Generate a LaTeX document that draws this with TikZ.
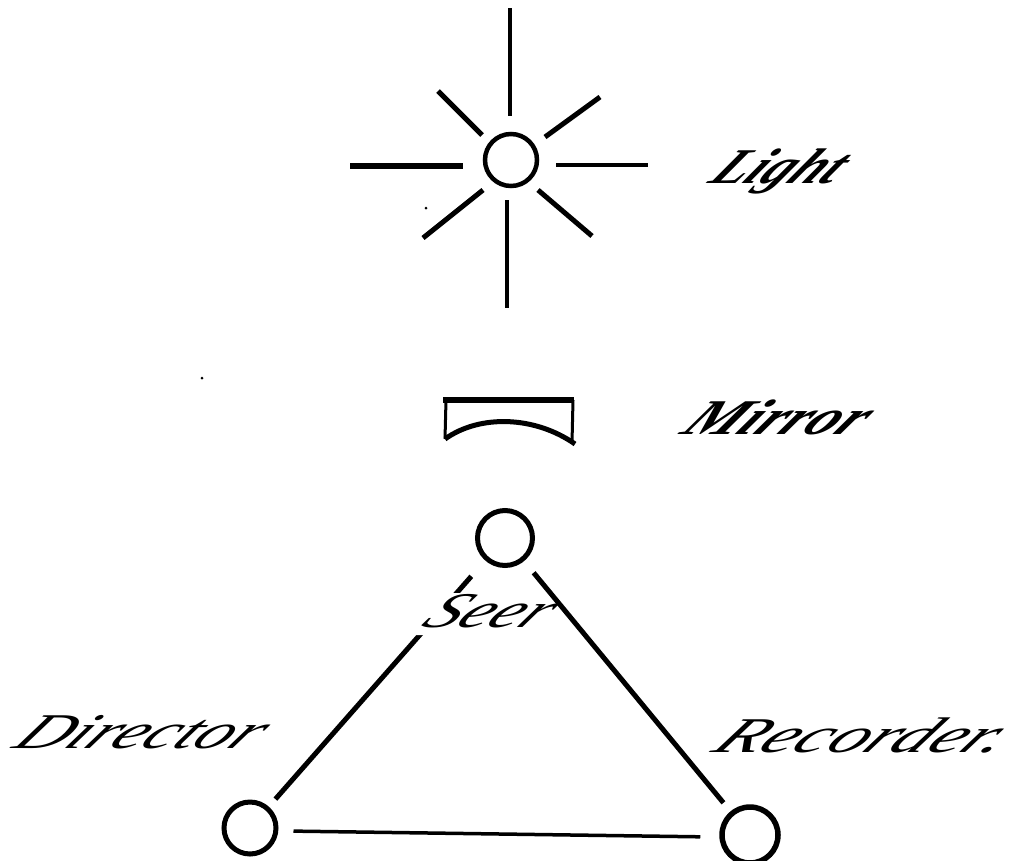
\documentclass[tikz,border=0pt]{standalone}
\usepackage{fontspec}
\setmainfont{Liberation Serif}
\begin{document}
\begin{tikzpicture}[x=1pt,y=-1pt,
  disc/.style={circle,draw=black,inner sep=0pt,minimum size=#1,fill=white},
  ray/.style={line width=#1,black},
  lbl/.style={font=\fontsize{50}{50}\selectfont\itshape,anchor=base,inner sep=0pt,xslant=.8,text=black},
  heavy/.style={font=\fontsize{50}{50}\selectfont\itshape\bfseries}]
\useasboundingbox (0,0) rectangle (1009,860);
\fill[white] (0,0) rectangle (1009,860);
% light
\node[disc=52pt,line width=4.5pt] (light) at (511,160) {};
\coordinate (rT0) at (510,8);   \coordinate (rT1) at (510,116);
\coordinate (rB0) at (507,200); \coordinate (rB1) at (507,308);
\coordinate (rL0) at (350,166); \coordinate (rL1) at (463,166);
\coordinate (rR0) at (556,165); \coordinate (rR1) at (648,165);
\coordinate (rA0) at (438,91);  \coordinate (rA1) at (482,135);
\coordinate (rC0) at (600,97);  \coordinate (rC1) at (545,137);
\coordinate (rD0) at (423,238); \coordinate (rD1) at (483,190);
\coordinate (rE0) at (592,236); \coordinate (rE1) at (538,190);
\draw[ray=3.5pt] (rT0) -- (rT1);
\draw[ray=3.5pt] (rB0) -- (rB1);
\draw[ray=6pt] (rL0) -- (rL1);
\draw[ray=4.5pt] (rR0) -- (rR1);
\draw[ray=5pt] (rA0) -- (rA1);
\draw[ray=5pt] (rC0) -- (rC1);
\draw[ray=5pt] (rD0) -- (rD1);
\draw[ray=5pt] (rE0) -- (rE1);
\node[lbl,heavy,xscale=1.12] (lightlabel) at (769,183) {Light};
% mirror
\coordinate (mTL) at (446,400);
\coordinate (mTR) at (573,400);
\coordinate (mBL) at (445,439);
\coordinate (mBR) at (575,444);
\draw[line width=3pt] (mBL) -- (mTL);
\draw[line width=3pt] (mTR) -- (572,443);
\draw[line width=6pt] (443,400) -- (574,400);
\draw[line width=5pt] (mBL) .. controls (480,414) and (535,416) .. (mBR);
\node[lbl,heavy,xscale=1.25] (mirrorlabel) at (767,434) {Mirror};
% triangle
\node[disc=55pt,line width=5pt] (seer) at (505,538) {};
\node[disc=52pt,line width=5pt] (director) at (250,828) {};
\node[disc=56pt,line width=5.5pt] (recorder) at (750,835) {};
\draw[line width=5pt,shorten <=21pt,shorten >=10pt] (seer) -- (director);
\node[lbl,fill=white,text height=34pt,text depth=8pt,inner sep=0pt,xscale=1.37] (seerlabel) at (480,627) {Seer};
\draw[line width=5pt,shorten <=15pt,shorten >=11pt] (seer) -- (recorder);
\draw[line width=3.5pt,shorten <=15pt,shorten >=19pt,transform canvas={yshift=-2.5pt}] (director) -- (recorder);
\node[lbl,xscale=1.42] (directorlabel) at (131,748) {Director};
\node[lbl,xscale=1.5] (recorderlabel) at (853,752) {Recorder.};
% specks
\fill (202,378) circle (1.5pt);
\fill (426,208) circle (1.5pt);
\end{tikzpicture}
\end{document}
